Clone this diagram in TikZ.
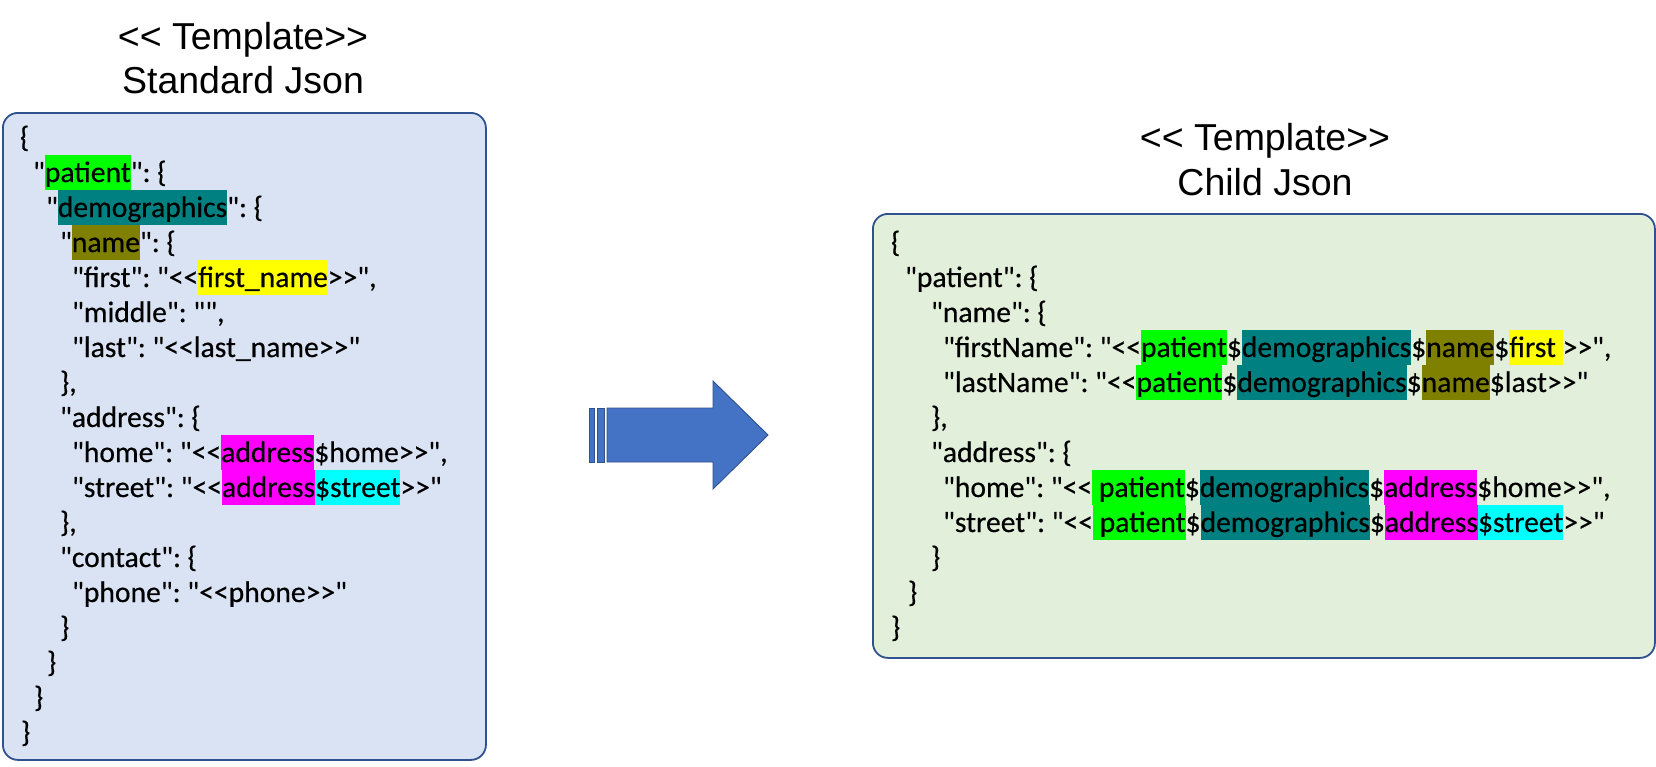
\documentclass[tikz,border=0pt]{standalone}
\usepackage{fontspec}
\newfontfamily\jf{Carlito}[Ligatures=TeXOff, FakeBold=0.4]
\newfontfamily\tf{Liberation Sans}[Ligatures=TeXOff]
\definecolor{hgreen}{HTML}{00FF00}
\definecolor{hteal}{HTML}{008080}
\definecolor{holive}{HTML}{808000}
\definecolor{hyellow}{HTML}{FFFF00}
\definecolor{hmagenta}{HTML}{FF00FF}
\definecolor{hcyan}{HTML}{00FFFF}
\definecolor{bluefill}{HTML}{DAE3F3}
\definecolor{greenfill}{HTML}{E2EFDA}
\definecolor{boxline}{HTML}{2F528F}
\definecolor{arrowfill}{HTML}{4472C4}
\newcommand\hlt[2]{{\setlength{\fboxsep}{0pt}\colorbox{#1}{\rule[-8pt]{0pt}{35pt}#2}}}
\tikzset{
  jsonbox/.style={draw=boxline, line width=1.8pt, rounded corners=15pt, anchor=north west, inner sep=0pt},
  jl/.style={anchor=base west, inner sep=0pt, outer sep=0pt, font=\jf\fontsize{29.6}{35}\selectfont\frenchspacing},
  ttl/.style={anchor=base, inner sep=0pt, font=\tf\fontsize{37.5}{45}\selectfont},
  bigarrow/.style={fill=arrowfill, draw=boxline, line width=0.9pt, line join=miter}
}
\begin{document}
\begin{tikzpicture}[x=1pt, y=-1pt]
\useasboundingbox (0,0) rectangle (1656,766);

% titles
\node[ttl] (stdA) at (243,49) {<< Template>>};
\node[ttl] (stdB) at (243,93) {Standard Json};
\node[ttl] (chdA) at (1265,150) {<< Template>>};
\node[ttl] (chdB) at (1265,195) {Child Json};

% boxes
\node[jsonbox, fill=bluefill, minimum width=483pt, minimum height=647pt] (stdbox) at (2,112) {};
\node[jsonbox, fill=greenfill, minimum width=782pt, minimum height=444pt] (chdbox) at (872,213) {};

% standard json lines
\node[jl] (L0) at (20,147) {\{};
\node[jl] (L1) at (33,182) {"\hlt{hgreen}{patient}": \{};
\node[jl] (L2) at (46,217) {"\hlt{hteal}{demographics}": \{};
\node[jl] (L3) at (60,252) {"\hlt{holive}{name}": \{};
\node[jl] (L4) at (72,287) {"first": "<<\hlt{hyellow}{first\_name}>>",};
\node[jl] (L5) at (72,322) {"middle": "",};
\node[jl] (L6) at (72,357) {"last": "<<last\_name>>"};
\node[jl] (L7) at (60,392) {\},};
\node[jl] (L8) at (60,427) {"address": \{};
\node[jl] (L9) at (72,462) {"home": "<<\hlt{hmagenta}{address}\$home>>",};
\node[jl] (L10) at (72,497) {"street": "<<\hlt{hmagenta}{address}\hlt{hcyan}{\$street}>>"};
\node[jl] (L11) at (60,532) {\},};
\node[jl] (L12) at (60,567) {"contact": \{};
\node[jl] (L13) at (72,602) {"phone": "<<phone>>"};
\node[jl] (L14) at (60,637) {\}};
\node[jl] (L15) at (47,672) {\}};
\node[jl] (L16) at (34,707) {\}};
\node[jl] (L17) at (21,742) {\}};

% child json lines
\node[jl] (R0) at (891,252) {\{};
\node[jl] (R1) at (905,287) {"patient": \{};
\node[jl] (R2) at (931,322) {"name": \{};
\node[jl] (R3) at (943,357) {"firstName": "<<\hlt{hgreen}{patient}\$\hlt{hteal}{demographics}\$\hlt{holive}{name}\$\hlt{hyellow}{first\ }>>",};
\node[jl] (R4) at (943,392) {"lastName": "<<\hlt{hgreen}{patient}\$\hlt{hteal}{demographics}\$\hlt{holive}{name}\$last>>"};
\node[jl] (R5) at (931,427) {\},};
\node[jl] (R6) at (931,462) {"address": \{};
\node[jl] (R7) at (943,497) {"home": "<<\hlt{hgreen}{\ patient}\$\hlt{hteal}{demographics}\$\hlt{hmagenta}{address}\$home>>",};
\node[jl] (R8) at (943,532) {"street": "<<\hlt{hgreen}{\ patient}\$\hlt{hteal}{demographics}\$\hlt{hmagenta}{address}\hlt{hcyan}{\$street}>>"};
\node[jl] (R9) at (931,567) {\}};
\node[jl] (R10) at (908,602) {\}};
\node[jl] (R11) at (891,637) {\}};

% striped block arrow
\draw[bigarrow] (589,408) rectangle (594,462);
\draw[bigarrow] (597,408) rectangle (604,462);
\draw[bigarrow] (607,408) -- (713,408) -- (713,381) -- (768,435) -- (713,489) -- (713,462) -- (607,462) -- cycle;
\end{tikzpicture}
\end{document}
